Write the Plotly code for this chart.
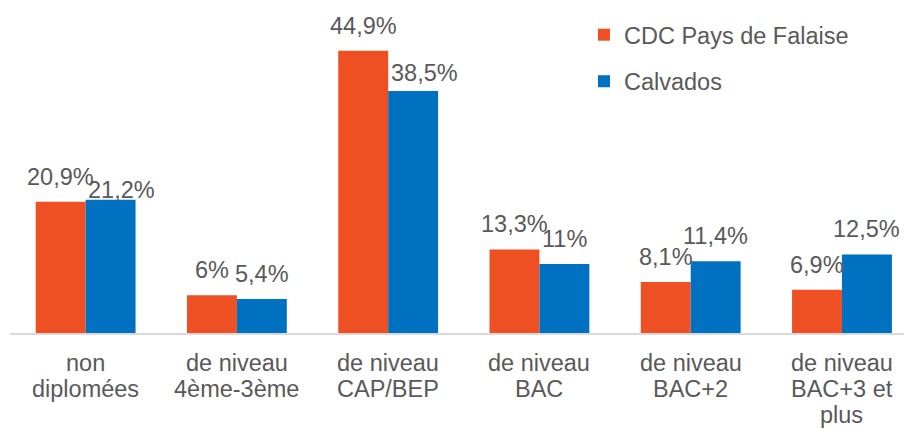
import plotly.graph_objects as go

categories = ["non diplomées", "de niveau 4ème-3ème", "de niveau CAP/BEP",
              "de niveau BAC", "de niveau BAC+2", "de niveau BAC+3 et plus"]
category_lines = [["non", "diplomées"], ["de niveau", "4ème-3ème"], ["de niveau", "CAP/BEP"],
                  ["de niveau", "BAC"], ["de niveau", "BAC+2"], ["de niveau", "BAC+3 et", "plus"]]
series_names = ["CDC Pays de Falaise", "Calvados"]
falaise = [20.9, 6.0, 44.9, 13.3, 8.1, 6.9]
calvados = [21.2, 5.4, 38.5, 11.0, 11.4, 12.5]
colors = ["#EE5024", "#0070C0"]

def fmt(v):
    s = f"{v:.1f}".rstrip("0").rstrip(".")
    return s.replace(".", ",") + "%"

FONT = "Liberation Sans, Arial, sans-serif"
GREY = "#595959"
FS = 23.5

fig = go.Figure()
for i, (name, vals) in enumerate(zip(series_names, [falaise, calvados])):
    fig.add_trace(go.Bar(
        x=categories, y=vals, name=name, marker_color=colors[i],
        marker_line_width=0, legendgroup=str(i), hoverinfo="skip",
    ))

# data labels (pixel nudges for the labels Excel moved to avoid overlaps)
nudge = {(1, 0): (11, -15), (1, 2): (11, -7)}
annotations = []
for i, vals in enumerate([falaise, calvados]):
    base_dx = -25 if i == 0 else 25
    for j, v in enumerate(vals):
        dx, dy = nudge.get((i, j), (0, 0))
        annotations.append(dict(
            x=categories[j], y=v, xref="x", yref="y", text=fmt(v),
            showarrow=False, xanchor="center", yanchor="bottom",
            xshift=base_dx + dx, yshift=10 + dy,
            font=dict(family=FONT, size=FS, color=GREY),
        ))

# category labels, one line per annotation (tighter line spacing than <br>)
for cat, lines in zip(categories, category_lines):
    for k, line in enumerate(lines):
        annotations.append(dict(
            x=cat, y=0, xref="x", yref="y", text=line, showarrow=False,
            xanchor="center", yanchor="top", yshift=-15 - 26 * k,
            font=dict(family=FONT, size=FS, color=GREY),
        ))

fig.update_layout(
    width=904, height=429,
    margin=dict(l=10, r=0, t=10, b=96, autoexpand=False),
    paper_bgcolor="white", plot_bgcolor="white",
    barmode="group", bargap=0.34, bargroupgap=0,
    font=dict(family=FONT, size=FS, color=GREY),
    showlegend=True,
    legend=dict(x=0.642, y=0.991, xanchor="left", yanchor="top",
                font=dict(family=FONT, size=FS, color=GREY),
                tracegroupgap=13, bgcolor="rgba(0,0,0,0)"),
    annotations=annotations,
)
fig.update_xaxes(
    type="category", range=[-0.5, 5.41], showgrid=False, automargin=False,
    showline=True, linecolor="#D9D9D9", linewidth=1.5,
    ticks="", showticklabels=False, fixedrange=True,
)
fig.update_yaxes(range=[0, 51.4], visible=False, showgrid=False, zeroline=False,
                 fixedrange=True, automargin=False)

fig.write_html("out.html", config={"displayModeBar": False, "staticPlot": True},
               post_script="document.body.style.margin='0';document.body.style.overflow='hidden';")
